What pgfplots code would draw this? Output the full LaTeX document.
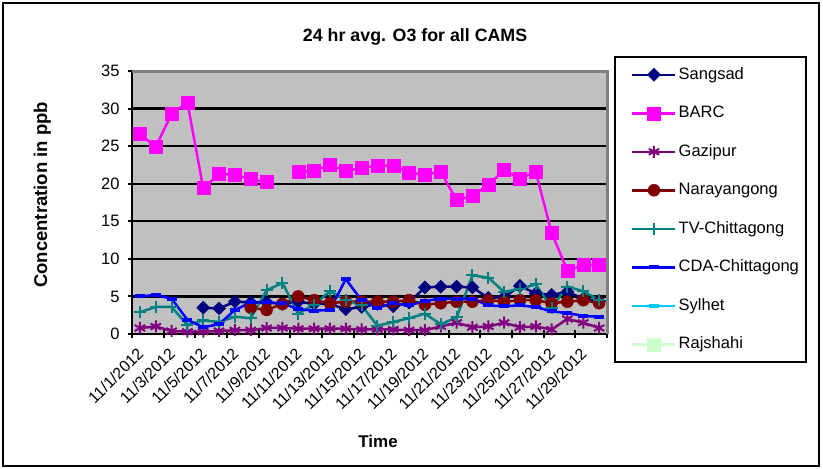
\documentclass[border=0pt]{standalone}
\usepackage{fontspec}
\setmainfont{Liberation Sans}
\usepackage{pgfplots}
\usepackage{pgfplotstable}
\pgfplotsset{compat=1.18}

\definecolor{cSang}{HTML}{000080}
\definecolor{cBarc}{HTML}{FF00FF}
\definecolor{cGazi}{HTML}{800080}
\definecolor{cNara}{HTML}{800000}
\definecolor{cTV}{HTML}{008080}
\definecolor{cCDA}{HTML}{0000FF}
\definecolor{cSyl}{HTML}{00CCFF}
\definecolor{cRaj}{HTML}{CCFFCC}
\definecolor{plotgray}{HTML}{C0C0C0}
\definecolor{bordergray}{HTML}{808080}

\pgfplotstableread{
x sang barc gazi nara tv cda
1 nan 26.6 0.8 nan 2.9 5.0
2 nan 24.9 1.0 nan 3.6 5.2
3 nan 29.3 0.4 nan 3.6 4.7
4 nan 30.8 0.3 nan 1.2 1.9
5 3.5 19.4 0.3 nan 1.8 0.9
6 3.4 21.3 0.4 nan 1.6 1.3
7 4.3 21.2 0.5 nan 2.3 3.2
8 4.2 20.6 0.5 3.5 2.1 4.2
9 4.2 20.2 0.8 3.2 5.8 4.2
10 4.0 nan 0.8 4.0 6.8 4.1
11 4.3 21.6 0.7 5.0 2.7 3.3
12 4.0 21.7 0.7 4.5 3.9 3.1
13 4.0 22.5 0.7 4.1 5.7 3.2
14 3.3 21.7 0.7 4.3 4.5 7.3
15 3.6 22.1 0.6 4.3 3.8 4.5
16 4.0 22.4 0.6 4.3 1.1 3.5
17 3.7 22.4 0.6 4.3 1.6 4.1
18 4.2 21.5 0.5 4.5 2.1 3.8
19 6.2 21.2 0.5 3.9 2.7 4.4
20 6.3 21.6 1.0 4.1 1.3 4.7
21 6.3 17.8 1.5 4.3 2.2 4.7
22 6.2 18.4 0.9 4.3 7.8 4.7
23 4.8 19.8 1.0 4.5 7.5 3.8
24 4.9 21.8 1.5 4.3 5.6 3.7
25 6.4 20.7 0.9 4.5 6.0 3.8
26 5.4 21.6 1.0 4.5 6.6 3.6
27 5.2 13.5 0.6 4.1 3.5 3.0
28 5.6 8.4 2.0 4.3 6.3 2.8
29 4.7 9.2 1.5 4.5 5.7 2.4
30 4.4 9.2 0.8 4.1 4.5 2.3
}\data

\begin{document}
\begin{tikzpicture}[x=1pt,y=1pt]
\path (0,0) rectangle (823,469);
\draw[line width=1.5pt] (3,3) rectangle (819,466);
\begin{axis}[
  at={(132pt,135pt)}, anchor=south west,
  scale only axis, width=475pt, height=263pt,
  xmin=0.5, xmax=30.5, ymin=0, ymax=35,
  axis x line*=bottom, axis y line*=left,
  axis line style={line width=2.5pt, black},
  axis background/.style={fill=plotgray},
  ytick={0,5,...,35},
  ymajorgrids, grid style={black, line width=2.2pt},
  xtick={0.5,2.5,...,30.5},
  xticklabels={11/1/2012,11/3/2012,11/5/2012,11/7/2012,11/9/2012,11/11/2012,11/13/2012,11/15/2012,11/17/2012,11/19/2012,11/21/2012,11/23/2012,11/25/2012,11/27/2012,11/29/2012,{}},
  x tick label style={xshift=4.2pt, yshift=-7.1pt, rotate=45, anchor=north east, inner sep=1pt, font=\fontsize{16}{18}\selectfont},
  y tick label style={font=\fontsize{16.5}{18}\selectfont, xshift=-5pt},
  /pgf/number format/assume math mode=true,
  tick align=center, major tick length=8pt,
  tick style={black, line width=2pt},
  unbounded coords=jump,
  title={24 hr avg. O3 for all CAMS},
  title style={at={(0.596,1.137)}, anchor=center, yshift=-8pt, font=\bfseries\fontsize{17.8}{20}\selectfont},
  xlabel={Time},
  xlabel style={at={(0.518,-0.407)}, anchor=center, font=\bfseries\fontsize{17}{19}\selectfont},
  ylabel={Concentration in ppb},
  ylabel style={at={(-0.189,0.529)}, anchor=center, font=\bfseries\fontsize{18.5}{20}\selectfont},
  legend style={at={(1.0147,1.058)}, anchor=north west, draw=black, line width=2.5pt, fill=white,
    font=\fontsize{16.5}{18}\selectfont, row sep=17pt, inner xsep=5pt, inner ysep=7pt,
    nodes={text height=12pt, text depth=3.5pt, inner xsep=2pt, inner ysep=3pt}},
  legend cell align=left,
  legend image code/.code={\path (-11pt,0pt); \draw[mark repeat=2,mark phase=2,#1] plot coordinates {(0pt,0pt) (21.5pt,0pt) (43pt,0pt)};},
  after end axis/.code={\draw[bordergray, line width=3pt] (rel axis cs:0,1) -- (rel axis cs:1,1) -- (rel axis cs:1,0);},
]
\addplot[cSang, line width=2.5pt, mark=square*, mark size=4.6pt, mark options={solid, rotate=45, fill=cSang, line width=0.5pt}] table[x=x, y=sang] {\data};
\addlegendentry{Sangsad}
\addplot[cBarc, line width=2.5pt, mark=square*, mark size=6.5pt, mark options={solid, fill=cBarc, line width=0.5pt}] table[x=x, y=barc] {\data};
\addlegendentry{BARC}
\addplot[cGazi, line width=2.5pt, mark=asterisk, mark size=6pt, mark options={solid, line width=2pt}] table[x=x, y=gazi] {\data};
\addlegendentry{Gazipur}
\addplot[cNara, line width=2.5pt, mark=*, mark size=6pt, mark options={solid, fill=cNara, line width=0.5pt}] table[x=x, y=nara] {\data};
\addlegendentry{Narayangong}
\addplot[cTV, line width=2.5pt, mark=+, mark size=6pt, mark options={solid, line width=2pt}] table[x=x, y=tv] {\data};
\addlegendentry{TV-Chittagong}
\addplot[cCDA, line width=2.5pt, mark=-, mark size=5pt, mark options={solid, line width=4pt}] table[x=x, y=cda] {\data};
\addlegendentry{CDA-Chittagong}
\addlegendimage{cSyl, line width=2.5pt, mark=-, mark size=5pt, mark options={solid, line width=4pt}}
\addlegendentry{Sylhet}
\addlegendimage{cRaj, line width=2.5pt, mark=square*, mark size=6.5pt, mark options={solid, fill=cRaj, line width=0.5pt}}
\addlegendentry{Rajshahi}
\end{axis}
\end{tikzpicture}
\end{document}
